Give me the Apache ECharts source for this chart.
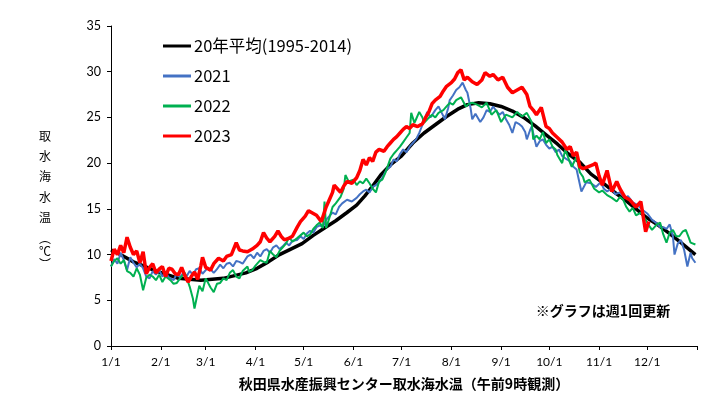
<!DOCTYPE html>
<html>
<head>
<meta charset="utf-8">
<script src="https://cdn.jsdelivr.net/npm/echarts@6/dist/echarts.min.js"></script>
<style>
  html, body { margin: 0; padding: 0; background: #fff; }
  #chart { width: 724px; height: 398px; }
</style>
</head>
<body>
<div id="chart"></div>
<script>
// 月初の日 (1/1 からの日数) と目盛ラベル
const monthStarts = [0, 31, 59, 90, 120, 151, 181, 212, 243, 273, 304, 334]
const monthLabels = ['1/1', '2/1', '3/1', '4/1', '5/1', '6/1', '7/1', '8/1', '9/1', '10/1', '11/1', '12/1']

const seriesNames = ['20年平均(1995-2014)', '2021', '2022', '2023']

// [日, 水温] 画像から読み取った値
const avg20 = [[0,10.5],[7,9.9],[14,9.2],[21,8.7],[28,8.2],[35,7.8],[42,7.4],[49,7.3],[56,7.2],[63,7.3],[70,7.4],[77,7.7],[84,8.0],[91,8.5],[98,9.2],[105,10.0],[112,10.6],[119,11.2],[126,12.1],[133,12.9],[140,13.7],[147,14.6],[153,15.4],[158,16.4],[163,17.5],[168,18.7],[174,19.8],[181,20.8],[188,22.2],[195,23.3],[202,24.2],[209,25.1],[216,25.9],[222,26.4],[229,26.6],[236,26.5],[243,26.2],[250,25.7],[257,25.0],[264,24.1],[271,23.1],[278,22.1],[285,21.0],[292,20.1],[299,18.8],[306,17.9],[313,16.9],[320,16.0],[327,15.0],[334,14.0],[341,13.2],[348,12.3],[355,11.3],[364,10.0]]

const y2021 = [[0,8.7],[2,9.5],[4,9.0],[6,10.2],[8,9.4],[10,8.3],[12,9.7],[14,9.1],[16,8.6],[18,9.0],[20,8.5],[22,7.6],[24,7.4],[26,8.2],[28,7.8],[30,8.3],[32,7.6],[34,8.0],[36,7.5],[39,7.2],[41,7.9],[43,7.5],[45,8.0],[47,7.6],[49,8.2],[51,7.8],[53,8.4],[55,8.5],[57,7.9],[60,8.5],[62,8.4],[64,8.0],[66,8.4],[68,8.9],[70,8.5],[72,9.0],[74,9.1],[76,8.7],[78,9.3],[80,9.2],[82,9.0],[85,9.8],[87,10.0],[89,9.6],[91,10.2],[93,9.8],[95,10.4],[97,10.6],[99,10.2],[101,10.8],[103,11.0],[105,10.6],[107,10.9],[109,11.3],[111,11.0],[113,11.5],[116,11.6],[118,12.0],[120,11.7],[122,12.3],[124,12.6],[126,12.4],[128,13.0],[130,13.2],[132,13.0],[134,13.8],[136,14.2],[138,14.6],[140,14.4],[142,15.2],[144,15.6],[147,16.0],[150,15.8],[153,16.2],[155,16.6],[157,16.9],[159,17.1],[161,16.8],[163,17.4],[165,17.6],[167,17.9],[169,18.4],[172,19.4],[174,19.6],[176,20.4],[178,20.2],[180,21.0],[182,21.5],[184,21.2],[186,21.8],[188,22.2],[190,22.6],[192,23.3],[194,24.2],[197,25.6],[199,25.0],[200,25.1],[202,25.8],[204,26.2],[206,25.5],[208,24.8],[210,26.0],[211,26.9],[213,27.4],[215,28.0],[217,28.3],[219,28.8],[221,28.0],[222,27.7],[224,26.0],[225,24.8],[227,25.4],[228,25.5],[230,24.5],[232,25.0],[234,25.8],[236,25.6],[238,26.2],[240,25.7],[242,25.3],[244,25.6],[246,24.8],[248,24.2],[250,23.3],[252,24.5],[254,24.3],[256,24.0],[258,23.4],[259,22.6],[261,23.6],[262,24.0],[264,22.5],[265,21.8],[267,22.4],[269,22.6],[271,22.0],[273,21.6],[275,21.8],[277,21.2],[279,21.5],[281,20.8],[284,20.4],[286,20.2],[288,19.6],[290,19.3],[293,16.9],[296,17.9],[299,17.8],[302,17.4],[305,17.9],[307,17.2],[309,16.9],[312,17.2],[314,16.6],[317,16.8],[320,16.2],[322,16.4],[325,15.7],[328,15.4],[331,14.9],[334,14.5],[337,13.8],[340,13.4],[342,13.0],[344,13.0],[346,12.8],[348,13.3],[350,12.0],[351,10.0],[353,11.2],[355,11.6],[357,10.5],[359,8.7],[361,10.2],[362,9.6],[364,9.1]]

const y2022 = [[0,8.7],[2,9.3],[4,9.6],[6,9.0],[8,9.4],[10,8.2],[12,8.0],[14,7.6],[16,8.5],[18,7.8],[20,6.1],[22,7.5],[24,7.8],[26,7.6],[28,7.2],[30,7.8],[32,7.0],[34,7.6],[37,7.2],[39,6.8],[41,6.9],[43,7.4],[46,8.0],[48,7.0],[49,6.5],[51,5.2],[52,4.1],[54,5.8],[55,6.6],[57,6.0],[59,7.4],[60,7.2],[62,6.4],[64,5.9],[66,6.8],[68,6.9],[70,7.4],[72,7.2],[74,8.0],[76,8.3],[78,7.6],[80,7.4],[82,8.2],[85,8.7],[86,8.1],[88,8.3],[90,8.8],[93,9.4],[95,9.2],[97,9.1],[99,10.4],[101,10.0],[103,9.7],[105,10.4],[107,10.8],[109,11.2],[111,11.9],[113,11.4],[116,11.8],[118,12.1],[120,12.4],[122,12.0],[124,12.2],[126,12.8],[128,13.2],[130,13.5],[132,12.9],[133,15.8],[134,12.9],[136,14.0],[138,15.2],[140,15.6],[143,16.3],[145,17.2],[146,18.7],[148,18.0],[151,18.2],[153,17.6],[155,18.0],[157,17.8],[159,18.3],[161,17.8],[163,17.2],[165,16.8],[167,18.0],[169,18.2],[171,19.0],[174,20.5],[176,21.0],[178,21.4],[180,21.8],[182,22.3],[184,22.8],[186,23.3],[187,25.5],[189,24.4],[190,24.8],[192,25.6],[194,25.0],[195,24.4],[197,24.8],[200,25.3],[202,25.0],[204,25.5],[207,25.8],[209,26.2],[211,26.6],[213,26.4],[215,26.9],[218,27.2],[221,26.2],[223,26.5],[225,26.6],[228,26.4],[231,26.1],[234,26.6],[237,25.3],[240,25.8],[243,24.5],[246,25.3],[250,25.0],[253,25.6],[256,25.1],[259,25.5],[262,24.5],[263,22.6],[265,23.0],[267,22.6],[269,23.4],[271,22.2],[273,22.6],[275,21.8],[277,21.5],[278,20.9],[281,20.0],[283,21.5],[286,20.0],[287,19.6],[290,20.7],[292,19.0],[294,18.5],[295,17.9],[298,18.2],[301,17.2],[304,16.8],[306,17.0],[309,16.5],[312,16.2],[315,15.8],[317,16.3],[319,16.0],[321,15.2],[323,14.7],[325,15.1],[327,14.3],[330,14.6],[333,13.8],[335,13.2],[337,12.7],[340,13.3],[342,13.5],[344,12.2],[346,11.3],[348,12.4],[350,12.7],[352,12.0],[354,12.0],[356,12.5],[358,12.7],[360,11.8],[361,11.3],[364,11.1]]

const y2023 = [[0,9.3],[2,10.6],[4,10.0],[6,11.0],[8,10.2],[10,11.9],[12,10.8],[14,10.0],[16,10.4],[18,9.1],[20,10.3],[22,7.9],[24,8.6],[26,9.0],[28,8.0],[30,8.4],[32,8.7],[34,7.6],[36,8.5],[38,8.4],[40,7.9],[42,7.8],[44,8.6],[46,7.7],[48,7.0],[50,7.6],[52,8.1],[54,7.3],[56,8.8],[57,9.7],[59,8.6],[62,8.3],[64,9.0],[67,9.6],[70,9.3],[72,9.8],[75,10.0],[78,11.3],[80,10.5],[82,10.4],[85,10.3],[88,10.6],[91,11.0],[93,11.4],[95,12.4],[97,11.8],[99,11.4],[102,12.0],[104,12.6],[106,12.0],[108,11.6],[111,11.8],[113,12.0],[116,13.0],[118,13.6],[121,14.2],[123,14.8],[126,14.5],[128,14.3],[131,13.6],[134,15.2],[136,16.0],[138,16.8],[139,17.6],[141,17.2],[143,16.8],[145,17.5],[147,18.0],[150,17.8],[153,18.4],[155,19.2],[157,20.4],[159,19.8],[161,20.6],[163,20.2],[165,21.2],[167,21.5],[170,21.3],[172,21.8],[174,22.2],[176,22.6],[178,22.9],[180,23.3],[182,23.7],[184,24.0],[186,23.8],[188,24.2],[191,24.0],[194,24.3],[196,25.0],[198,25.6],[200,26.5],[202,26.9],[205,27.3],[207,27.9],[209,28.4],[212,28.8],[214,29.2],[216,29.9],[218,30.2],[220,29.1],[222,29.4],[225,28.9],[228,28.6],[231,29.1],[233,29.9],[236,29.5],[238,29.7],[241,29.1],[244,29.4],[247,28.3],[250,27.7],[253,28.0],[256,28.3],[259,27.5],[261,26.2],[263,25.8],[265,25.3],[268,26.1],[271,24.0],[273,23.8],[275,23.3],[278,22.8],[281,22.3],[284,21.5],[286,21.8],[288,20.8],[290,21.2],[292,19.6],[294,19.4],[297,19.6],[300,19.8],[302,20.0],[304,18.6],[306,17.6],[309,19.2],[312,16.9],[315,18.0],[317,17.2],[320,16.3],[323,16.0],[325,15.6],[327,15.2],[330,15.8],[333,12.5],[335,13.6]]

const JP = '"Noto Sans CJK JP", sans-serif'
const NUM = 'Lato, "Noto Sans CJK JP", sans-serif'

const chart = echarts.init(document.getElementById('chart'), null, { renderer: 'canvas' })

const lineSeries = (name, data, color, width) => ({
  name: name,
  type: 'line',
  data: data,
  showSymbol: false,
  symbol: 'none',
  animation: false,
  lineStyle: { color: color, width: width },
  itemStyle: { color: color }
})

const option = {
  animation: false,
  backgroundColor: '#fff',
  grid: { left: 111, right: 27, top: 26, bottom: 52 },
  legend: {
    orient: 'vertical',
    left: 158,
    top: 31,
    icon: 'rect',
    itemWidth: 28,
    itemHeight: 3,
    itemGap: 10,
    selectedMode: false,
    textStyle: { color: '#000', fontSize: 16.5, lineHeight: 20, fontFamily: JP, padding: [0, 0, 0, -2] },
    data: seriesNames
  },
  xAxis: {
    type: 'value',
    min: 0,
    max: 365,
    splitLine: { show: false },
    axisLine: { lineStyle: { color: '#000', width: 1 } },
    axisTick: { show: true, length: 4, lineStyle: { color: '#000' }, customValues: monthStarts.concat([365]) },
    axisLabel: {
      color: '#000',
      fontSize: 12,
      fontFamily: NUM,
      margin: 10,
      customValues: monthStarts,
      formatter: (v) => monthLabels[monthStarts.indexOf(v)]
    },
    name: '秋田県水産振興センター取水海水温（午前9時観測）',
    nameLocation: 'middle',
    nameGap: 31,
    nameTextStyle: { color: '#000', fontSize: 14, fontWeight: 'bold', fontFamily: JP }
  },
  yAxis: {
    type: 'value',
    min: 0,
    max: 35,
    interval: 5,
    splitLine: { show: false },
    axisLine: { show: true, lineStyle: { color: '#000', width: 1 } },
    axisTick: { show: true, length: 4, lineStyle: { color: '#000' } },
    axisLabel: { color: '#000', fontSize: 12.5, fontFamily: NUM, margin: 10 }
  },
  graphic: [
    {
      type: 'text', x: 45, y: 126,
      style: { text: '取\n水\n海\n水\n温', fill: '#000', font: '12px ' + JP, textAlign: 'center', textVerticalAlign: 'top', lineHeight: 20.3 }
    },
    {
      type: 'text', x: 45, y: 232,
      style: { text: '︵\n℃\n︶', fill: '#000', font: '12px ' + JP, textAlign: 'center', textVerticalAlign: 'top', lineHeight: 13 }
    },
    {
      type: 'text', x: 603, y: 311,
      style: { text: '※グラフは週1回更新', fill: '#000', font: 'bold 14px ' + JP, textAlign: 'center', textVerticalAlign: 'middle' }
    }
  ],
  series: [
    lineSeries(seriesNames[0], avg20, '#000000', 3.5),
    lineSeries(seriesNames[1], y2021, '#4472C4', 2),
    lineSeries(seriesNames[2], y2022, '#00B050', 2),
    lineSeries(seriesNames[3], y2023, '#FF0000', 3.5)
  ]
}

chart.setOption(option)
</script>
</body>
</html>
